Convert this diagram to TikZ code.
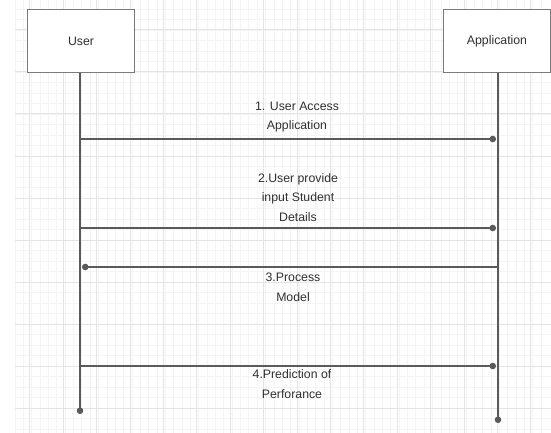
\documentclass[tikz,border=0pt]{standalone}
\usepackage{fontspec}
\setmainfont{Liberation Sans}
\usetikzlibrary{arrows.meta}
\definecolor{gridminor}{HTML}{F4F4F4}
\definecolor{gridmajor}{HTML}{E4E4E4}
\definecolor{boxline}{HTML}{7A7A7A}
\definecolor{msgline}{HTML}{5A5A5A}
\definecolor{labeltext}{HTML}{303030}
\tikzset{
  actor/.style={draw=boxline, line width=1.4pt, fill=white, minimum width=107pt,
    minimum height=63pt, inner sep=0pt, text=labeltext,
    font=\fontsize{12.3}{19.5}\selectfont},
  lifeline/.style={draw=msgline, line width=1.3pt, -{Circle[length=6.5pt]}},
  message/.style={draw=msgline, line width=1.3pt, -{Circle[length=6.5pt]}, shorten >=2pt},
  msglabel/.style={align=center, text=labeltext, inner sep=0pt,
    font=\fontsize{12.3}{19.5}\selectfont},
  gridfine/.style={draw=gridminor, line width=0.7pt},
  gridbold/.style={draw=gridmajor, line width=1pt}
}
\begin{document}
\begin{tikzpicture}[x=1pt,y=-1pt]
\useasboundingbox (0,0) rectangle (551,433);
\fill[white] (0,0) rectangle (551,433);

% background grid paper
\foreach \i in {0,...,63} {
  \draw[gridfine] ({15+8.35*\i},0) -- ({15+8.35*\i},433);
}
\foreach \j in {0,...,41} {
  \draw[gridfine] (15,{9+10.5*\j}) -- (551,{9+10.5*\j});
}
\foreach \i in {0,...,16} {
  \draw[gridbold] ({29.8+33.4*\i},0) -- ({29.8+33.4*\i},433);
}
\foreach \j in {0,...,10} {
  \draw[gridbold] (15,{30+42*\j}) -- (551,{30+42*\j});
}

% participants
\node[actor] (user) at (81,41) {User};
\node[actor] (app) at (497,41) {Application};

% lifeline ends
\coordinate (userend) at (80,414);
\coordinate (append) at (498,423);
\draw[lifeline] (user.south -| userend) -- (userend);
\draw[lifeline] (app.south -| append) -- (append);

% message anchor points on the lifelines
\coordinate (u1) at (80,139);  \coordinate (a1) at (498,139);
\coordinate (u2) at (80,228);  \coordinate (a2) at (498,228);
\coordinate (u3) at (80,267);  \coordinate (a3) at (498,267);
\coordinate (u4) at (80,366);  \coordinate (a4) at (498,366);

\draw[message] (u1) -- (a1);
\draw[message] (u2) -- (a2);
\draw[message] (a3) -- (u3);
\draw[message] (u4) -- (a4);

% message labels
\node[msglabel] (m1) at (297,117) {1. User Access\\Application};
\node[msglabel] (m2) at (298,197.5) {2.User provide\\input Student\\Details};
\node[msglabel] (m3) at (293,287.5) {3.Process\\Model};
\node[msglabel] (m4) at (292,384) {4.Prediction of\\Perforance};
\end{tikzpicture}
\end{document}
